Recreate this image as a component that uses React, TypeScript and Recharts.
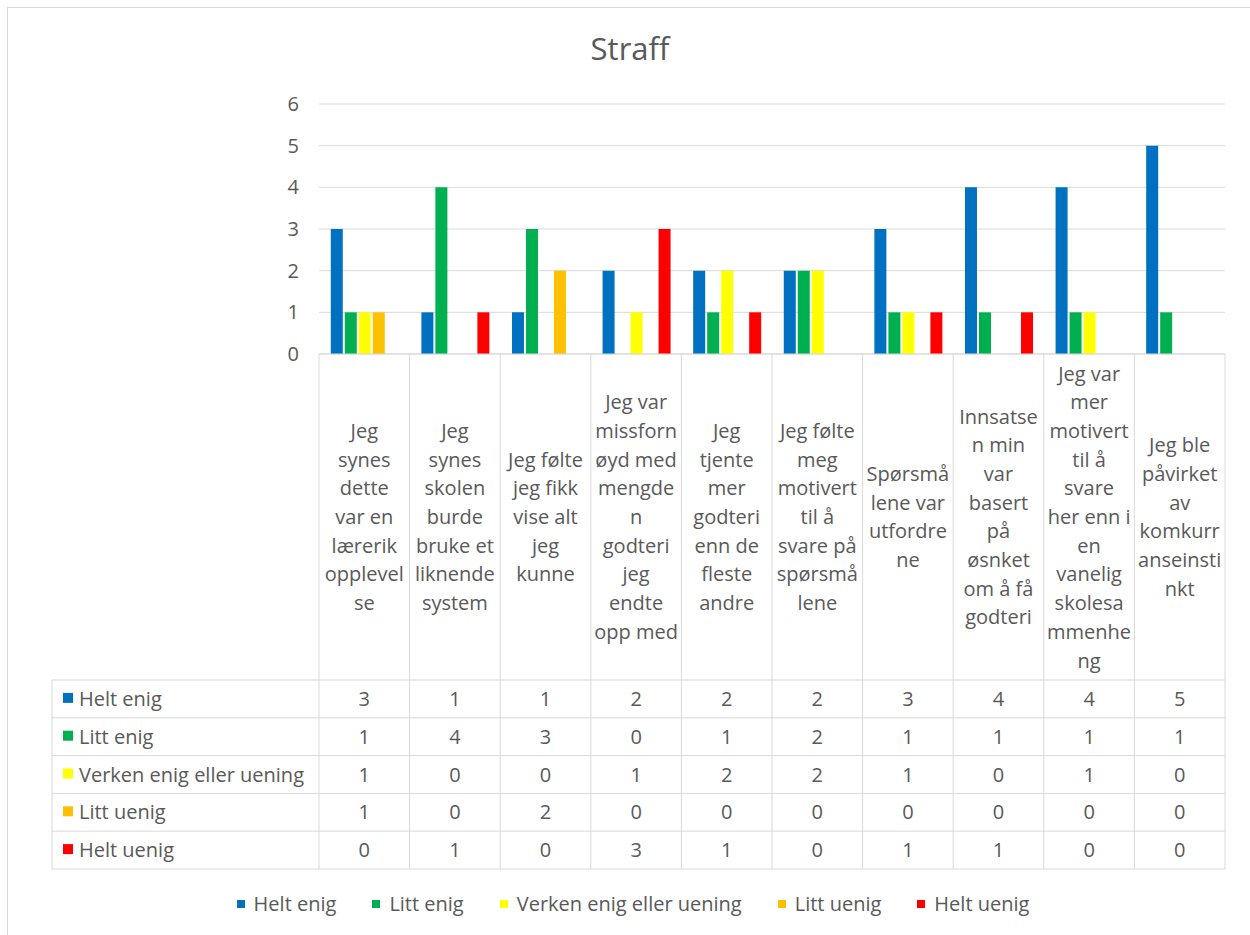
import React from 'react';
import { BarChart, Bar, XAxis, YAxis, CartesianGrid, Legend } from 'recharts';

// ---------- data ----------
const categories = [
  'Jeg synes dette var en lærerik opplevelse',
  'Jeg synes skolen burde bruke et liknende system',
  'Jeg følte jeg fikk vise alt jeg kunne',
  'Jeg var missfornøyd med mengden godteri jeg endte opp med',
  'Jeg tjente mer godteri enn de fleste andre',
  'Jeg følte meg motivert til å svare på spørsmålene',
  'Spørsmålene var utfordrene',
  'Innsatsen min var basert på øsnket om å få godteri',
  'Jeg var mer motivert til å svare her enn i en vanelig skolesammenheng',
  'Jeg ble påvirket av komkurranseinstinkt',
];

const categoryLines = [
  ['Jeg', 'synes', 'dette', 'var en', 'lærerik', 'opplevel', 'se'],
  ['Jeg', 'synes', 'skolen', 'burde', 'bruke et', 'liknende', 'system'],
  ['Jeg følte', 'jeg fikk', 'vise alt', 'jeg', 'kunne'],
  ['Jeg var', 'missforn', 'øyd med', 'mengde', 'n', 'godteri', 'jeg', 'endte', 'opp med'],
  ['Jeg', 'tjente', 'mer', 'godteri', 'enn de', 'fleste', 'andre'],
  ['Jeg følte', 'meg', 'motivert', 'til å', 'svare på', 'spørsmå', 'lene'],
  ['Spørsmå', 'lene var', 'utfordre', 'ne'],
  ['Innsatse', 'n min', 'var', 'basert', 'på', 'øsnket', 'om å få', 'godteri'],
  ['Jeg var', 'mer', 'motivert', 'til å', 'svare', 'her enn i', 'en', 'vanelig', 'skolesa', 'mmenhe', 'ng'],
  ['Jeg ble', 'påvirket', 'av', 'komkurr', 'anseinsti', 'nkt'],
];

const seriesNames = ['Helt enig', 'Litt enig', 'Verken enig eller uening', 'Litt uenig', 'Helt uenig'];
const heltEnig = [3, 1, 1, 2, 2, 2, 3, 4, 4, 5];
const littEnig = [1, 4, 3, 0, 1, 2, 1, 1, 1, 1];
const verkenEnig = [1, 0, 0, 1, 2, 2, 1, 0, 1, 0];
const littUenig = [1, 0, 2, 0, 0, 0, 0, 0, 0, 0];
const heltUenig = [0, 1, 0, 3, 1, 0, 1, 1, 0, 0];
const yTicks = [0, 1, 2, 3, 4, 5, 6];
const seriesColors = ['#0070C0', '#00B050', '#FFFF00', '#FFC000', '#FF0000'];

const seriesValues = [heltEnig, littEnig, verkenEnig, littUenig, heltUenig];
const seriesKeys = ['s0', 's1', 's2', 's3', 's4'];

const data = categories.map((c, i) => {
  const row: any = { category: c };
  seriesKeys.forEach((k, s) => {
    row[k] = seriesValues[s][i];
  });
  return row;
});

// ---------- layout ----------
const FONT = '"Open Sans", sans-serif';
const TEXT = '#595959';
const GRID = '#d9d9d9';
const CHART_W = 1250;
const CHART_H = 935;
const PLOT_LEFT = 319;
const PLOT_RIGHT = 1225;
const PLOT_TOP = 104;
const PLOT_BOTTOM = 354;
const Y_AXIS_W = 60;
const X_AXIS_H = 520;
const LABEL_BOX_H = 326; // category label block height
const ROW_H = 37.8;
const LINE_H = 28.7;
const HEADER_LEFT = 52;

const TableTick = (props: any) => {
  const { x, y, index } = props;
  const colW = (PLOT_RIGHT - PLOT_LEFT) / categories.length;
  const left = x - colW / 2;
  const right = x + colW / 2;
  const top = y;
  const rowTop = top + LABEL_BOX_H;
  const bottom = rowTop + ROW_H * seriesValues.length;
  const lines = categoryLines[index] || [];
  const labelCenter = top + LABEL_BOX_H / 2;
  const rowLines = [];
  for (let r = 0; r <= seriesValues.length; r++) rowLines.push(rowTop + r * ROW_H);

  return (
    <g>
      {index === 0 && (
        <g>
          <line x1={left} x2={left} y1={top} y2={bottom} stroke={GRID} strokeWidth={1} />
          <line x1={HEADER_LEFT} x2={HEADER_LEFT} y1={rowTop} y2={bottom} stroke={GRID} strokeWidth={1} />
          {rowLines.map((yy, k) => (
            <line key={'h' + k} x1={HEADER_LEFT} x2={left} y1={yy} y2={yy} stroke={GRID} strokeWidth={1} />
          ))}
          {seriesNames.map((name, r) => {
            const cy = rowTop + (r + 0.5) * ROW_H;
            return (
              <g key={'n' + r}>
                <rect x={63} y={cy - 6} width={10} height={10} fill={seriesColors[r]} />
                <text x={79} y={cy} dy="0.35em" fill={TEXT} fontSize={20} fontFamily={FONT} textAnchor="start">
                  {name}
                </text>
              </g>
            );
          })}
        </g>
      )}
      <line x1={right} x2={right} y1={top} y2={bottom} stroke={GRID} strokeWidth={1} />
      <line x1={left} x2={right} y1={top} y2={top} stroke={GRID} strokeWidth={1} />
      {rowLines.map((yy, k) => (
        <line key={'r' + k} x1={left} x2={right} y1={yy} y2={yy} stroke={GRID} strokeWidth={1} />
      ))}
      {lines.map((ln, k) => (
        <text
          key={'l' + k}
          x={x}
          y={labelCenter + (k - (lines.length - 1) / 2) * LINE_H}
          dy="0.35em"
          textAnchor="middle"
          fill={TEXT}
          fontSize={20}
          fontFamily={FONT}
        >
          {ln}
        </text>
      ))}
      {seriesValues.map((vals, r) => (
        <text
          key={'v' + r}
          x={x}
          y={rowTop + (r + 0.5) * ROW_H}
          dy="0.35em"
          textAnchor="middle"
          fill={TEXT}
          fontSize={20}
          fontFamily={FONT}
        >
          {vals[index]}
        </text>
      ))}
    </g>
  );
};

const renderLegend = (props: any) => {
  const payload = [...(props.payload || [])].sort(
    (a: any, b: any) => seriesNames.indexOf(a.value) - seriesNames.indexOf(b.value)
  );
  return (
    <div
      style={{
        display: 'flex',
        justifyContent: 'center',
        alignItems: 'center',
        fontFamily: FONT,
        fontSize: 20,
        color: TEXT,
        whiteSpace: 'nowrap',
      }}
    >
      {payload.map((p: any, i: number) => (
        <div
          key={i}
          style={{ display: 'flex', alignItems: 'center', marginRight: i < payload.length - 1 ? 36 : 0 }}
        >
          <span style={{ display: 'inline-block', width: 8, height: 8, background: p.color, marginRight: 9 }} />
          <span>{p.value}</span>
        </div>
      ))}
    </div>
  );
};

export default function App() {
  return (
    <div
      style={{
        position: 'absolute',
        left: 0,
        top: 0,
        width: CHART_W,
        height: CHART_H,
        overflow: 'hidden',
        background: '#ffffff',
      }}
    >
      <div
        style={{
          position: 'absolute',
          left: 7,
          top: 7,
          width: CHART_W,
          height: CHART_H,
          borderTop: `1px solid ${GRID}`,
          borderLeft: `1px solid ${GRID}`,
        }}
      />
      <div
        style={{
          position: 'absolute',
          left: 330,
          top: 28,
          width: 600,
          textAlign: 'center',
          fontFamily: FONT,
          fontSize: 31,
          lineHeight: '40px',
          color: TEXT,
        }}
      >
        Straff
      </div>
      <div style={{ position: 'absolute', left: 0, top: 0 }}>
        <BarChart
          width={CHART_W}
          height={CHART_H}
          data={data}
          margin={{
            top: PLOT_TOP,
            right: CHART_W - PLOT_RIGHT,
            left: PLOT_LEFT - Y_AXIS_W,
            bottom: CHART_H - PLOT_BOTTOM - X_AXIS_H,
          }}
          barCategoryGap="13%"
          barGap={2}
        >
          <CartesianGrid horizontal vertical={false} stroke={GRID} strokeWidth={1} />
          <XAxis
            dataKey="category"
            height={X_AXIS_H}
            interval={0}
            tickLine={false}
            axisLine={false}
            tickSize={0}
            tickMargin={0}
            tick={(p: any) => <TableTick {...p} />}
          />
          <YAxis
            width={Y_AXIS_W}
            domain={[0, 6]}
            ticks={yTicks}
            interval={0}
            tickLine={false}
            axisLine={false}
            tickSize={0}
            tickMargin={20}
            tick={{ fill: TEXT, fontSize: 20, fontFamily: FONT }}
          />
          {seriesKeys.map((k, s) => (
            <Bar key={k} dataKey={k} name={seriesNames[s]} fill={seriesColors[s]} isAnimationActive={false} />
          ))}
          <Legend
            layout="horizontal"
            verticalAlign="middle"
            align="center"
            itemSorter={null as any}
            content={renderLegend}
            wrapperStyle={{ position: 'absolute', top: 890, left: 8, width: CHART_W, height: 28 }}
          />
        </BarChart>
      </div>
    </div>
  );
}
